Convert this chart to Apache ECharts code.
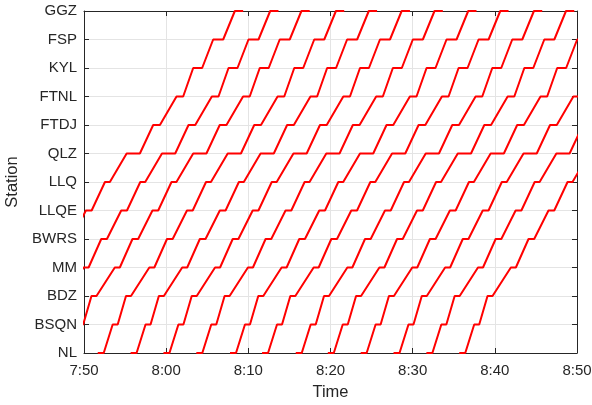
<!DOCTYPE html>
<html>
<head>
<meta charset="utf-8">
<script src="https://cdn.jsdelivr.net/npm/echarts@6/dist/echarts.min.js"></script>
<style>
html,body{margin:0;padding:0;background:#fff;}
#chart{width:592px;height:405px;}
</style>
</head>
<body>
<div id="chart"></div>
<script>
// Stations from bottom (index 0) to top
const stations = ['NL','BSQN','BDZ','MM','BWRS','LLQE','LLQ','QLZ','FTDJ','FTNL','KYL','FSP','GGZ'];
// x tick labels (7:50 .. 8:50)
const timeTicks = ['7:50','8:00','8:10','8:20','8:30','8:40','8:50'];
// departure time of each train from NL, in minutes after 7:50
const nlDepartures = [-9.9, -5.6, -1.8, 2.4, 6.4, 10.4, 14.4, 18.5, 22.4, 26.5, 30.4, 34.4, 38.4, 42.4, 46.4];
// running profile: arrival / departure at each station,
// in minutes relative to the train's departure from NL
const arriveOffset = [-0.73, 1.09, 2.71, 5.55, 7.70, 10.13, 12.45, 15.09, 18.32, 21.16, 23.19, 25.62, 28.26];
const departOffset = [0.00, 1.70, 3.32, 6.16, 8.39, 10.83, 13.05, 16.70, 19.14, 21.97, 24.28, 26.84, 29.27];

const T0 = 470; // 7:50 in minutes since midnight
const FONT = "'Liberation Sans', Arial, Helvetica, sans-serif";
const INK = '#262626';

const series = nlDepartures.map((dep, k) => {
  const pts = [];
  stations.forEach((s, i) => {
    pts.push([T0 + dep + arriveOffset[i], i]);
    pts.push([T0 + dep + departOffset[i], i]);
  });
  return {
    type: 'line', name: 'Train ' + (k + 1), data: pts,
    showSymbol: false, symbol: 'none', clip: true,
    lineStyle: {color: '#ff0000', width: 2},
    z: 3
  };
});

const chart = echarts.init(document.getElementById('chart'), null, {renderer: 'canvas'});
const axTick = {show: true, inside: true, length: 5, lineStyle: {color: INK, width: 1}};
const axLine = {show: true, onZero: false, lineStyle: {color: INK, width: 1}};
chart.setOption({
  animation: false,
  backgroundColor: '#fff',
  grid: {left: 84, right: 15, top: 11, bottom: 52, show: false, containLabel: false, outerBoundsMode: 'none'},
  xAxis: [{
    type: 'value', min: 470, max: 530, interval: 10, position: 'bottom',
    name: 'Time', nameLocation: 'middle', nameGap: 31,
    nameTextStyle: {fontSize: 16.5, color: INK, fontFamily: FONT},
    axisLine: axLine, axisTick: axTick,
    axisLabel: {fontSize: 15, color: INK, fontFamily: FONT, margin: 10, showMinLabel: true, showMaxLabel: true,
      formatter: v => timeTicks[Math.round((v - T0) / 10)]},
    splitLine: {show: true, lineStyle: {color: '#e4e4e4', width: 1}}
  }, {
    type: 'value', min: 470, max: 530, interval: 10, position: 'top',
    axisLine: axLine, axisTick: axTick, axisLabel: {show: false}, splitLine: {show: false}
  }],
  yAxis: [{
    type: 'value', min: 0, max: 12, interval: 1, position: 'left',
    name: 'Station', nameLocation: 'middle', nameGap: 57, nameRotate: 90,
    nameTextStyle: {fontSize: 16.5, color: INK, fontFamily: FONT},
    axisLine: axLine, axisTick: axTick,
    axisLabel: {fontSize: 15, color: INK, fontFamily: FONT, margin: 7, showMinLabel: true, showMaxLabel: true,
      formatter: v => stations[Math.round(v)]},
    splitLine: {show: true, lineStyle: {color: '#e4e4e4', width: 1}}
  }, {
    type: 'value', min: 0, max: 12, interval: 1, position: 'right',
    axisLine: axLine, axisTick: axTick, axisLabel: {show: false}, splitLine: {show: false}
  }],
  series: series
});
</script>
</body>
</html>
